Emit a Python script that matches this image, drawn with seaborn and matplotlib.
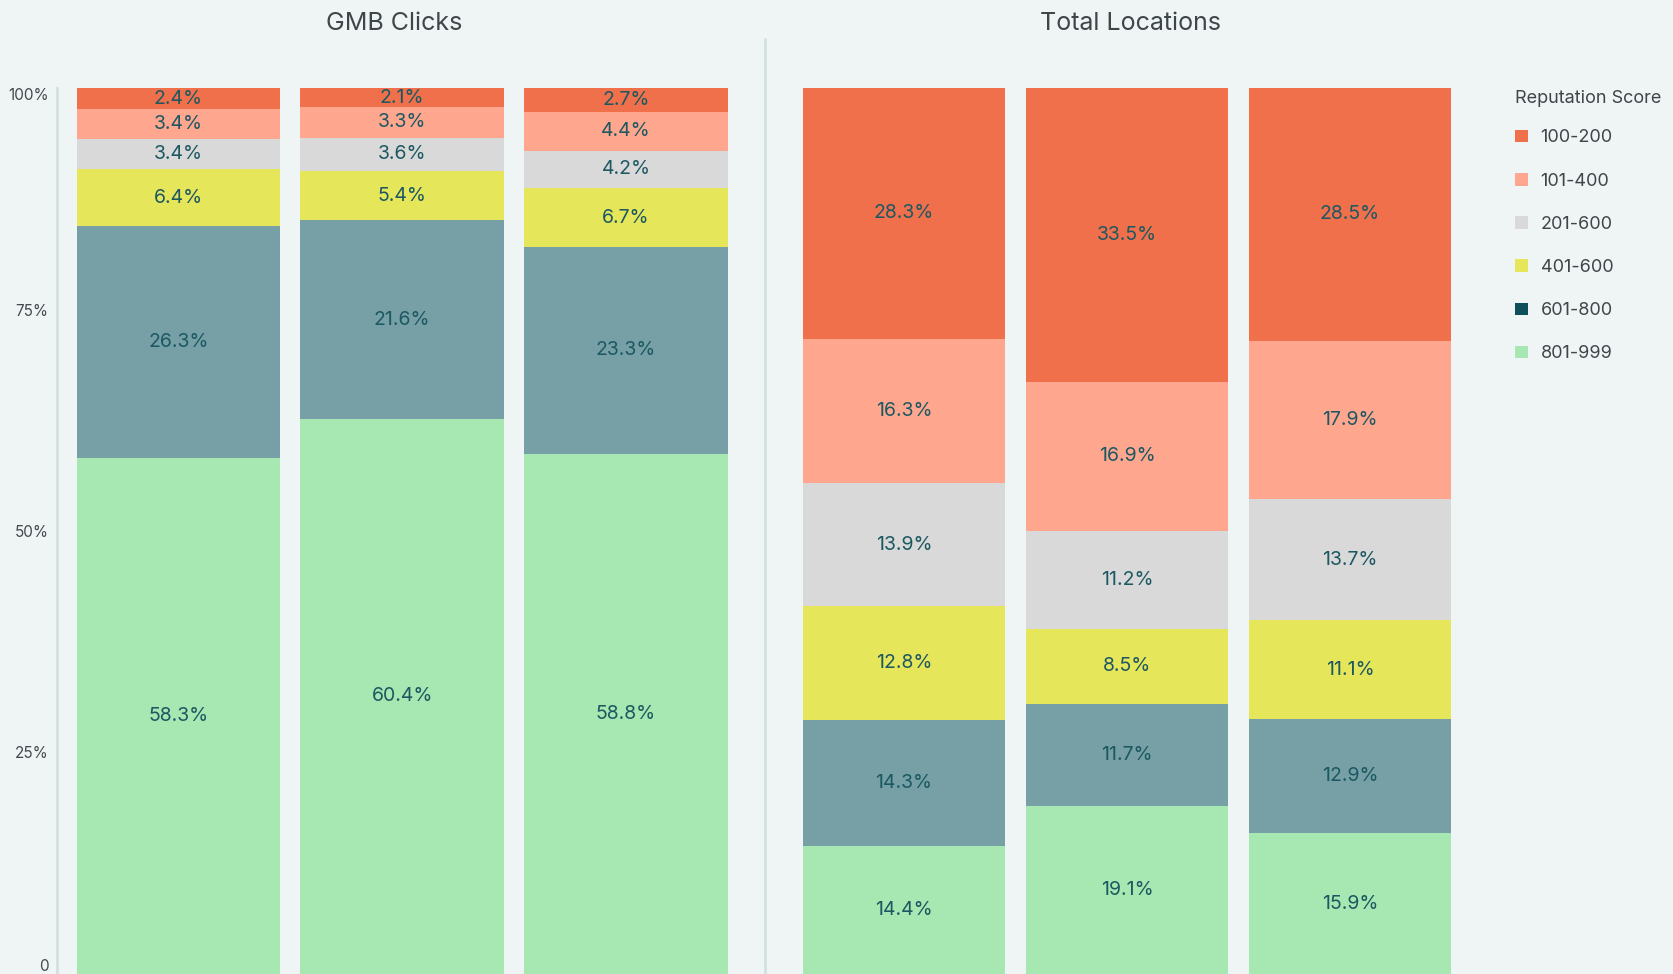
import numpy as np
import pandas as pd
import matplotlib
matplotlib.use("Agg")
import matplotlib.pyplot as plt
from matplotlib.patches import Patch
from matplotlib.lines import Line2D
import seaborn as sns

# ---- data ----
segments = ["801-999", "601-800", "401-600", "201-600", "101-400", "100-200"]  # bottom -> top
legend_order = ["100-200", "101-400", "201-600", "401-600", "601-800", "801-999"]
bars = ["1", "2", "3"]

gmb_clicks = {
    "801-999": [58.3, 60.4, 58.8],
    "601-800": [26.3, 21.6, 23.3],
    "401-600": [6.4, 5.4, 6.7],
    "201-600": [3.4, 3.6, 4.2],
    "101-400": [3.4, 3.3, 4.4],
    "100-200": [2.4, 2.1, 2.7],
}
total_locations = {
    "801-999": [14.4, 19.1, 15.9],
    "601-800": [14.3, 11.7, 12.9],
    "401-600": [12.8, 8.5, 11.1],
    "201-600": [13.9, 11.2, 13.7],
    "101-400": [16.3, 16.9, 17.9],
    "100-200": [28.3, 33.5, 28.5],
}
panel_titles = ["GMB Clicks", "Total Locations"]
y_ticks = [0, 25, 50, 75, 100]
y_tick_labels = ["0", "25%", "50%", "75%", "100%"]

bar_colors = {
    "100-200": "#EF704B",
    "101-400": "#FFA68E",
    "201-600": "#D9D9D9",
    "401-600": "#E6E65A",
    "601-800": "#76A0A6",
    "801-999": "#A7E7B1",
}
legend_colors = dict(bar_colors)
legend_colors["601-800"] = "#0E4F5B"

BG = "#EFF5F5"
LABEL_COLOR = "#1D5862"
TICK_COLOR = "#444B4F"
LINE_COLOR = "#D3E0E3"

sns.set_theme(style="white")
plt.rcParams["font.family"] = ["Inter", "DejaVu Sans"]

W, H = 1673, 974
fig = plt.figure(figsize=(W / 100, H / 100), dpi=100, facecolor=BG)


def px_axes(x0, x1, ytop):
    return fig.add_axes([x0 / W, 0, (x1 - x0) / W, (H - ytop) / H])


ax_l = px_axes(57, 740, 88)
ax_r = px_axes(780, 1480, 88)


def draw_panel(ax, data, xlim):
    df = pd.DataFrame(data, index=bars)
    norm = df.div(df.sum(axis=1), axis=0) * 100
    cum = norm[segments].cumsum(axis=1)
    # draw from top-most cumulative down so lower segments overlay
    for seg in reversed(segments):
        d = pd.DataFrame({"bar": bars, "val": cum[seg].values})
        sns.barplot(data=d, x="bar", y="val", order=bars, color=bar_colors[seg],
                    width=0.91, saturation=1, linewidth=0, ax=ax)
    for i, b in enumerate(bars):
        bottom = 0
        for seg in segments:
            h = norm.loc[b, seg]
            ax.text(i, bottom + h / 2, f"{df.loc[b, seg]}%", ha="center", va="center",
                    fontsize=14, color=LABEL_COLOR)
            bottom += h
    ax.set_xlim(*xlim)
    ax.set_ylim(0, 100)
    ax.set_facecolor(BG)
    ax.set_xlabel("")
    ax.set_ylabel("")
    ax.set_xticks([])
    for s in ["top", "right", "bottom"]:
        ax.spines[s].set_visible(False)


draw_panel(ax_l, gmb_clicks, (-0.543, 2.51))
draw_panel(ax_r, total_locations, (-0.556, 2.583))

# left y axis
ax_l.spines["left"].set_color(LINE_COLOR)
ax_l.spines["left"].set_linewidth(2)
ax_l.set_yticks(y_ticks)
ax_l.set_yticklabels(y_tick_labels)
ax_l.tick_params(axis="y", length=0, pad=6, labelsize=11, labelcolor=TICK_COLOR)
for lab, t in zip(ax_l.get_yticklabels(), y_ticks):
    if t == 100:
        lab.set_va("top")
    elif t == 0:
        lab.set_va("bottom")

ax_r.spines["left"].set_visible(False)
ax_r.set_yticks([])

# separator line between panels
fig.add_artist(Line2D([765 / W, 765 / W], [0, 1 - 39 / H], color=LINE_COLOR, lw=2,
                      transform=fig.transFigure))

# titles
fig.text(394 / W, 1 - 23 / H, panel_titles[0], ha="center", va="center", fontsize=18,
         color="#3F4649")
fig.text(1131 / W, 1 - 23 / H, panel_titles[1], ha="center", va="center", fontsize=18,
         color="#3F4649")

# legend
handles = [Patch(facecolor=legend_colors[s], edgecolor="none", label=s) for s in legend_order]
leg = fig.legend(handles=handles, title="Reputation Score", loc="upper left",
                 bbox_to_anchor=(1508 / W, 1 - 83 / H), frameon=False,
                 fontsize=13, title_fontsize=13, handlelength=0.7, handleheight=0.7,
                 handletextpad=0.7, labelspacing=1.45, borderaxespad=0)
leg._legend_box.align = "left"
leg._legend_box.sep = 16
for t in leg.get_texts():
    t.set_color("#3F4649")
leg.get_title().set_color("#3F4649")

fig.savefig("out.png", dpi=100, facecolor=BG)
